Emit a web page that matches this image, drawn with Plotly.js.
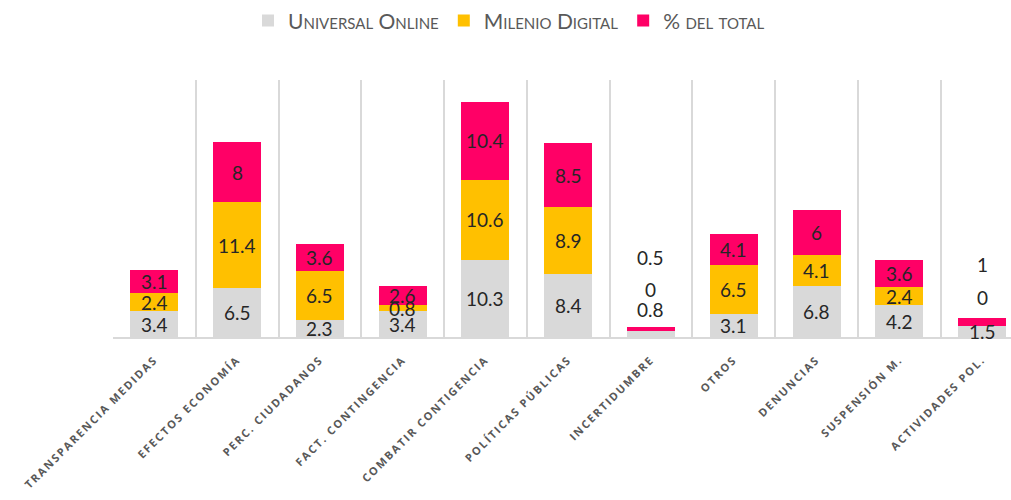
<!DOCTYPE html>
<html>
<head>
<meta charset="utf-8">
<script src="https://cdn.plot.ly/plotly-3.0.1.min.js"></script>
<style>
html,body{margin:0;padding:0;background:#fff;}
#chart{width:1011px;height:500px;}
.xtick text{letter-spacing:1.8px;}
</style>
</head>
<body>
<div id="chart"></div>
<script>
const categories = ["TRANSPARENCIA MEDIDAS","EFECTOS ECONOMÍA","PERC. CIUDADANOS","FACT. CONTINGENCIA","COMBATIR CONTIGENCIA","POLÍTICAS PÚBLICAS","INCERTIDUMBRE","OTROS","DENUNCIAS","SUSPENSIÓN M.","ACTIVIDADES POL."];
const universalOnline = [3.4, 6.5, 2.3, 3.4, 10.3, 8.4, 0.8, 3.1, 6.8, 4.2, 1.5];
const milenioDigital  = [2.4, 11.4, 6.5, 0.8, 10.6, 8.9, 0, 6.5, 4.1, 2.4, 0];
const pctTotal        = [3.1, 8, 3.6, 2.6, 10.4, 8.5, 0.5, 4.1, 6, 3.6, 1];
const seriesNames = ["Universal Online", "Milenio Digital", "% del total"];

const colors = ["#d9d9d9", "#ffc000", "#ff0066"];
const series = [universalOnline, milenioDigital, pctTotal];

// label nudges (pixels) for segments too small to hold their label
const nudges = {
  6: [24, 41, 72],
  10: [0, 28, 57]
};

const traces = series.map((vals, s) => ({
  type: "bar",
  name: seriesNames[s],
  x: categories,
  y: vals,
  width: 0.58,
  marker: {color: colors[s], line: {width: 0}},
  hoverinfo: "skip",
  textposition: "none"
}));

const annotations = [];
categories.forEach((c, i) => {
  let base = 0;
  series.forEach((vals, s) => {
    const v = vals[i];
    const mid = base + v / 2;
    base += v;
    annotations.push({
      x: c, y: mid, xref: "x", yref: "y",
      text: String(v), showarrow: false,
      yshift: nudges[i] ? nudges[i][s] : 0,
      font: {family: "Lato, 'Open Sans', sans-serif", size: 19, color: "#262626"}
    });
  });
});

const layout = {
  width: 1011, height: 500,
  margin: {l: 113, r: 0, t: 75, b: 163},
  paper_bgcolor: "#fff", plot_bgcolor: "#fff",
  barmode: "stack",
  showlegend: true,
  legend: {
    orientation: "h", x: 0.441, xanchor: "center", y: 1.31, yanchor: "top",
    font: {family: "Lato, 'Open Sans', sans-serif", size: 21, color: "#595959", variant: "small-caps"},
    traceorder: "normal", itemwidth: 30
  },
  xaxis: {
    type: "category",
    range: [-0.5, 10.35],
    tickson: "boundaries",
    showgrid: true, gridcolor: "#d9d9d9", gridwidth: 2,
    showline: true, linecolor: "#d9d9d9", linewidth: 2,
    ticks: "", tickangle: -45, ticklabelstandoff: 10,
    tickfont: {family: "'Open Sans', sans-serif", size: 11, color: "#595959", weight: "bold"},
    fixedrange: true
  },
  yaxis: {
    range: [0, 34.2],
    showgrid: false, zeroline: false, showticklabels: false, showline: false,
    fixedrange: true
  },
  annotations: annotations
};

Plotly.newPlot("chart", traces, layout, {displayModeBar: false, staticPlot: true});
</script>
</body>
</html>
